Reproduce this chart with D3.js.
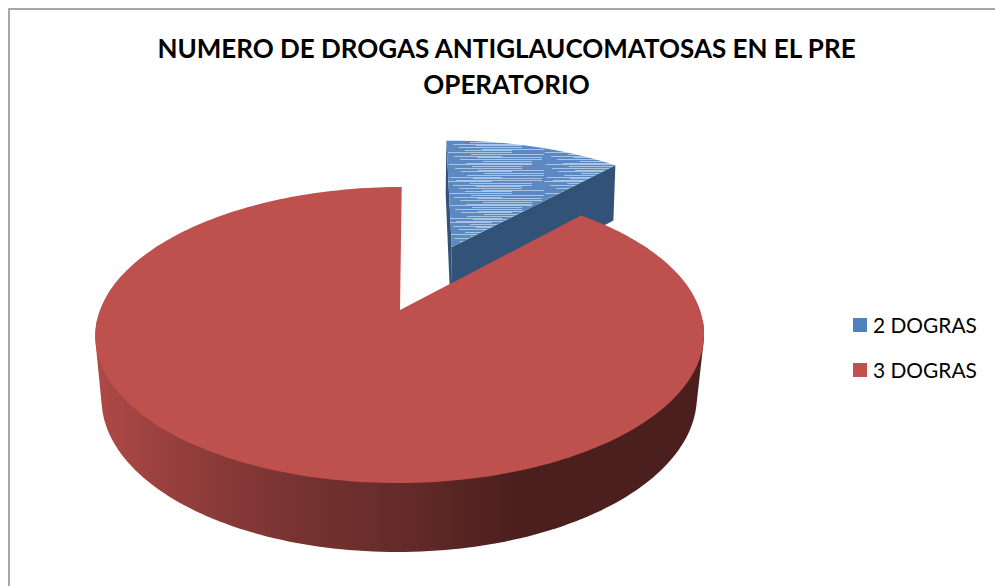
<!DOCTYPE html>
<html>
<head>
<meta charset="utf-8">
<script src="https://cdn.jsdelivr.net/npm/d3@7"></script>
<style>
html,body{margin:0;padding:0;background:#fff;}
svg{display:block;}
text{font-family:Lato,"Open Sans",sans-serif;fill:#000;}
</style>
</head>
<body>
<svg id="chart" width="995" height="586"></svg>
<script>
const categories = ["2 DOGRAS", "3 DOGRAS"];
const values = [2, 15];
const titleLines = ["NUMERO DE DROGAS ANTIGLAUCOMATOSAS EN EL PRE", "OPERATORIO"];
const topColors = ["#5c89c1", "#be504d"];
const swatchColors = ["#4f81bd", "#c0504d"];
const cutColors = ["#325377", "#4b1f1e"];
const wallStops = ["#ad4946", "#8e3c3a", "#763331", "#652b29", "#4b1f1e", "#4b1f1e"];
const wallStopX = [100, 200, 300, 400, 520, 700];
const explodeShare = [0.507, 0];

const svg = d3.select("#chart");

// Pie layout, clockwise from the top of the disc
const slices = d3.pie().sort(null).value(d => d)(values);

// Perspective planes of the disc: the upper face and the lower face
const upper = {cx: 400, y0: 310, b: 300, a: 143.8, k: 0.169, shear: 2};
const lower = {cx: 399.5, y0: 373.8, b: 294, a: 150.4, k: 0.156, shear: 2};
const project = (plane, X, Y) => [
  plane.cx + (plane.b * X + plane.shear * Y) / (1 + plane.k * Y),
  plane.y0 - plane.a * Y / (1 + plane.k * Y)
];
const offset = (s, i) => {
  const mid = (s.startAngle + s.endAngle) / 2;
  return [explodeShare[i] * Math.sin(mid), explodeShare[i] * Math.cos(mid)];
};
const rim = (plane, s, i, theta) => {
  const [dx, dy] = offset(s, i);
  return project(plane, dx + Math.sin(theta), dy + Math.cos(theta));
};
const hub = (plane, s, i) => {
  const [dx, dy] = offset(s, i);
  return project(plane, dx, dy);
};
const arcAngles = s => d3.range(0, 241).map(j => s.startAngle + (s.endAngle - s.startAngle) * j / 240);
const line = d3.line();

const defs = svg.append("defs");

// Horizontal shading of the outer wall
const wallColor = d3.scaleLinear().domain(wallStopX).range(wallStops);
const wallGrad = defs.append("linearGradient").attr("id", "wall")
  .attr("gradientUnits", "userSpaceOnUse")
  .attr("x1", wallStopX[0]).attr("x2", wallStopX[wallStopX.length - 1]).attr("y1", 0).attr("y2", 0);
wallStopX.forEach(x => wallGrad.append("stop")
  .attr("offset", (x - wallStopX[0]) / (wallStopX[wallStopX.length - 1] - wallStopX[0]))
  .attr("stop-color", wallColor(x)));

// Streaked surface of the smaller slice
const streakRows = [0, 2, 4, 5, 7, 9, 10, 12, 14, 16, 17, 19, 21, 23, 24, 26, 28, 30, 31, 33, 35, 37, 38, 40];
const streak = defs.append("pattern").attr("id", "streak").attr("patternUnits", "userSpaceOnUse")
  .attr("width", 97).attr("height", 41).attr("y", 140).attr("x", 447);
streak.append("rect").attr("width", 97).attr("height", 41).attr("fill", topColors[0]);
streak.selectAll("rect.row").data(streakRows).join("rect").attr("class", "row")
  .attr("x", (d, i) => (i * 23) % 40).attr("y", d => d)
  .attr("width", (d, i) => 45 + (i * 17) % 50).attr("height", 1)
  .attr("fill", "#a8c3e4");

// Frame
svg.append("rect").attr("x", 9).attr("y", 9).attr("width", 1000).attr("height", 600)
  .attr("fill", "#fff").attr("stroke", "#8c8c8c").attr("stroke-width", 1.5);

// Title
svg.append("g").selectAll("text").data(titleLines).join("text")
  .attr("x", 506.5).attr("y", (d, i) => 58 + i * 36)
  .attr("text-anchor", "middle").attr("font-weight", 700).attr("font-size", 26)
  .text(d => d);

// Exploded slice first: its cut faces, then its upper face
const small = slices[0];
const smallCut = theta => [
  hub(upper, small, 0), rim(upper, small, 0, theta), rim(lower, small, 0, theta), hub(lower, small, 0)
];
svg.append("path").attr("d", line(smallCut(small.startAngle)) + "Z").attr("fill", cutColors[0]);
svg.append("path").attr("d", line(smallCut(small.endAngle)) + "Z").attr("fill", cutColors[0]);
svg.append("path")
  .attr("d", line([hub(upper, small, 0), ...arcAngles(small).map(t => rim(upper, small, 0, t))]) + "Z")
  .attr("fill", "url(#streak)");

// Large slice: hull of the near half of both rims as the wall, upper face over it
const large = slices[1];
const angles = arcAngles(large);
const nearAngles = angles.filter(t => Math.cos(t) < -0.05);
const wallHull = d3.polygonHull([
  ...nearAngles.map(t => rim(upper, large, 1, t)),
  ...nearAngles.map(t => rim(lower, large, 1, t))
]);
svg.append("path").attr("d", line(wallHull) + "Z").attr("fill", "url(#wall)");
svg.append("path")
  .attr("d", line([hub(upper, large, 1), ...angles.map(t => rim(upper, large, 1, t))]) + "Z")
  .attr("fill", topColors[1]);

// Legend
const legendY = d3.scalePoint().domain(categories).range([325, 370]);
const legend = svg.append("g").selectAll("g").data(categories).join("g")
  .attr("transform", d => `translate(853,${legendY(d)})`);
legend.append("rect").attr("y", -7).attr("width", 14).attr("height", 14)
  .attr("fill", (d, i) => swatchColors[i]);
legend.append("text").attr("x", 20).attr("y", 8).attr("font-size", 20.9).text(d => d);
</script>
</body>
</html>
